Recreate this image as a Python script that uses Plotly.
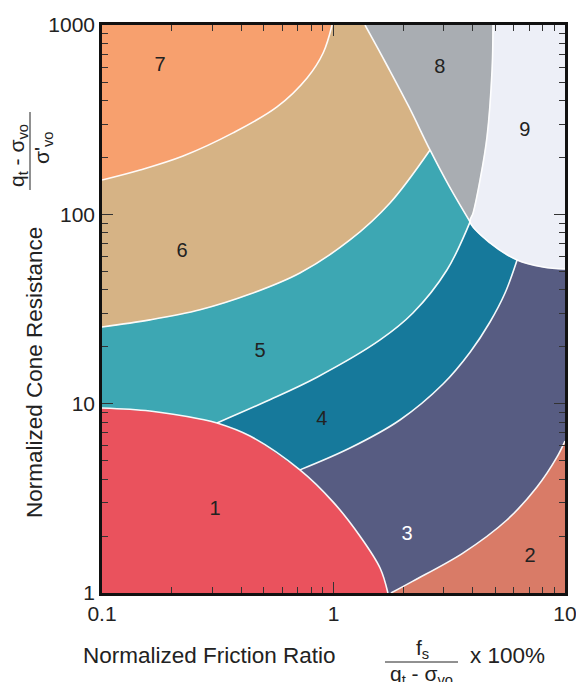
import plotly.graph_objects as go

# Soil behaviour type chart: normalized friction ratio F (%) vs normalized cone resistance Q.
# Each boundary is a list of (F, Q) points.

# zone 1 limit, from the left edge down to the bottom edge
b1_F = [0.100, 0.161, 0.265, 0.314, 0.436, 0.716, 0.995, 1.300, 1.589, 1.718]
b1_Q = [9.48, 9.14, 8.30, 7.91, 6.75, 4.47, 3.03, 2.00, 1.355, 1.00]

# zone 4 / zone 5 limit
b45_F = [0.314, 0.516, 0.849, 1.589, 2.203, 3.090, 3.890]
b45_Q = [7.91, 10.33, 13.8, 21.7, 30.1, 50.8, 91.2]

# zone 3 / zone 4 limit
b34_F = [0.716, 1.178, 1.936, 2.972, 3.890, 4.742, 5.508, 6.209]
b34_Q = [4.47, 5.83, 8.20, 12.7, 18.7, 27.0, 38.4, 57.4]

# lower limit of zone 9
b9_F = [3.890, 4.742, 6.209, 8.035, 10.0]
b9_Q = [91.2, 70.6, 57.4, 52.7, 51.4]

# zone 8 / zone 9 limit, from the top edge down
b89_F = [4.887, 4.842, 4.603, 4.295, 4.009, 3.890]
b89_Q = [1000, 578.1, 255.9, 151.7, 101.6, 91.2]

# left limit of zone 8, from the top edge down
b8_F = [1.368, 1.718, 2.119, 2.612, 3.155, 3.890]
b8_Q = [1000, 600.0, 369.0, 218.8, 141.3, 91.2]

# zone 5 / zone 6 limit
b56_F = [0.100, 0.161, 0.265, 0.436, 0.716, 1.178, 1.754, 2.612]
b56_Q = [25.4, 27.7, 31.3, 37.9, 49.0, 73.2, 114.8, 218.8]

# zone 6 / zone 7 limit
b67_F = [0.100, 0.146, 0.224, 0.368, 0.570, 0.769, 0.902, 0.986]
b67_Q = [151.7, 171.4, 203.2, 269.2, 369.0, 524.8, 711.2, 1000]

# zone 2 / zone 3 limit
b23_F = [1.770, 2.203, 3.622, 5.610, 7.568, 9.226, 10.0]
b23_Q = [1.00, 1.156, 1.625, 2.43, 3.63, 5.22, 6.35]

zone_names = ["1", "2", "3", "4", "5", "6", "7", "8", "9"]
label_F = [0.308, 7.06, 2.08, 0.891, 0.482, 0.222, 0.178, 2.88, 6.71]
label_Q = [2.74, 1.55, 2.02, 8.2, 18.7, 63.2, 607, 593, 275]

x_tick_vals = [0.1, 1, 10]
x_tick_text = ["0.1", "1", "10"]
y_tick_vals = [1, 10, 100, 1000]
y_tick_text = ["1", "10", "100", "1000"]

zone_colors = {
    "1": "#EA525D",
    "2": "#D97B67",
    "3": "#575C82",
    "4": "#16799B",
    "5": "#3DA7B3",
    "6": "#D6B385",
    "7": "#F7A06E",
    "8": "#A9ADB2",
    "9": "#EDEFF7",
}
label_colors = ["#222", "#222", "#FFFFFF", "#222", "#222", "#222", "#222", "#222", "#222"]


def piece(F, Q, start=None, stop=None, reverse=False):
    f, q = list(F[start:stop]), list(Q[start:stop])
    if reverse:
        f, q = f[::-1], q[::-1]
    return f, q


def chain(*parts):
    """Concatenate boundary pieces; every piece end is doubled so the
    spline keeps a sharp corner where two boundaries meet."""
    f, q = [], []
    for pf, pq in parts:
        f += [pf[0]] + pf + [pf[-1] * (1 + 1e-6)]
        q += [pq[0]] + pq + [pq[-1]]
    return f, q


# zone 9 outline runs down the 8/9 limit and on along its lower limit
b9_full_F = b89_F + b9_F[1:]
b9_full_Q = b89_Q + b9_Q[1:]

zones = {
    "1": chain(piece(b1_F, b1_Q), ([0.1], [1.0])),
    "2": chain(piece(b23_F, b23_Q), ([10.0], [1.0])),
    "3": chain(piece(b1_F, b1_Q, 5), piece(b23_F, b23_Q),
               piece(b9_F, b9_Q, 2, reverse=True), piece(b34_F, b34_Q, reverse=True)),
    "4": chain(piece(b1_F, b1_Q, 3, 6), piece(b34_F, b34_Q),
               piece(b9_F, b9_Q, 0, 3, reverse=True), piece(b45_F, b45_Q, reverse=True)),
    "5": chain(piece(b1_F, b1_Q, 0, 4), piece(b45_F, b45_Q),
               piece(b8_F, b8_Q, 3, reverse=True), piece(b56_F, b56_Q, reverse=True)),
    "6": chain(piece(b56_F, b56_Q), piece(b8_F, b8_Q, 0, 4, reverse=True),
               piece(b67_F, b67_Q, reverse=True)),
    "7": chain(piece(b67_F, b67_Q), ([0.1], [1000])),
    "8": chain(piece(b8_F, b8_Q), piece(b89_F, b89_Q, reverse=True)),
    "9": chain(piece(b9_full_F, b9_full_Q), ([10.0], [1000])),
}

fig = go.Figure()

for name, (f, q) in zones.items():
    c = zone_colors[name]
    fig.add_trace(go.Scatter(
        x=f, y=q, mode="lines", fill="toself", fillcolor=c,
        line=dict(color=c, width=0.6, shape="spline", smoothing=1),
        hoverinfo="skip", showlegend=False,
    ))

boundaries = [
    (b1_F, b1_Q), (b45_F, b45_Q), (b34_F, b34_Q), (b9_full_F, b9_full_Q),
    (b8_F, b8_Q), (b56_F, b56_Q), (b67_F, b67_Q), (b23_F, b23_Q),
]
for bf, bq in boundaries:
    f, q = chain((list(bf), list(bq)))
    fig.add_trace(go.Scatter(
        x=f, y=q, mode="lines",
        line=dict(color="rgba(255,255,255,0.95)", width=1.6, shape="spline", smoothing=1),
        hoverinfo="skip", showlegend=False,
    ))

font_family = "Liberation Sans, Arial, Helvetica, sans-serif"

fig.add_trace(go.Scatter(
    x=label_F, y=label_Q, mode="text", text=zone_names,
    textfont=dict(size=20, color=label_colors, family=font_family),
    hoverinfo="skip", showlegend=False,
))

x_minor = [m * d for d in (0.1, 1) for m in range(2, 10)]
y_minor = [m * d for d in (1, 10, 100) for m in range(2, 10)]

axis_common = dict(
    type="log", showgrid=False, zeroline=False,
    ticks="inside", ticklen=11, tickwidth=1.2, tickcolor="#333",
    showline=True, linecolor="#111", linewidth=2.5, mirror="allticks",
    tickfont=dict(size=21, color="#222", family=font_family),
    automargin=False, ticklabeloverflow="allow",
)

fig.update_xaxes(
    range=[-1, 1], tickvals=x_tick_vals, ticktext=x_tick_text,
    minor=dict(tickvals=x_minor, ticks="inside", ticklen=6, tickwidth=1, tickcolor="#333", showgrid=False),
    **axis_common,
)
fig.update_yaxes(
    range=[0, 3], tickvals=y_tick_vals, ticktext=y_tick_text,
    minor=dict(tickvals=y_minor, ticks="inside", ticklen=6, tickwidth=1, tickcolor="#333", showgrid=False),
    **axis_common,
)

title_font = dict(size=22.5, color="#222", family=font_family)
frac_font = dict(size=21, color="#222", family=font_family)

annotations = [
    # y axis title and its fraction
    dict(text="Normalized Cone Resistance", x=-0.1469, y=0.389, textangle=-90, font=title_font),
    dict(text="q<sub>t</sub> - σ<sub>vo</sub>", x=-0.1814, y=0.7694, textangle=-90, font=frac_font),
    dict(text="σ'<sub>vo</sub>", x=-0.1274, y=0.7835, textangle=-90, font=frac_font),
    # x axis title and its fraction
    dict(text="Normalized Friction Ratio", x=0.2314, y=-0.1092, font=title_font),
    dict(text="f<sub>s</sub>", x=0.6933, y=-0.0986, font=frac_font),
    dict(text="q<sub>t</sub> - σ<sub>vo</sub>", x=0.6911, y=-0.1444, font=frac_font),
    dict(text="x 100%", x=0.8758, y=-0.1092, font=title_font),
]
for a in annotations:
    fig.add_annotation(xref="paper", yref="paper", showarrow=False,
                       xanchor="center", yanchor="middle", **a)

fig.add_shape(type="line", xref="paper", yref="paper",
              x0=-0.1555, x1=-0.1555, y0=0.7095, y1=0.8468, line=dict(color="#222", width=1))
fig.add_shape(type="line", xref="paper", yref="paper",
              x0=0.6112, x1=0.7689, y0=-0.1215, y1=-0.1215, line=dict(color="#222", width=1))

fig.update_layout(
    width=576, height=682,
    margin=dict(l=102, r=11, t=25, b=89),
    paper_bgcolor="white", plot_bgcolor="white",
    showlegend=False,
    font=dict(family=font_family, size=20, color="#222"),
)

fig.write_html("out.html")
